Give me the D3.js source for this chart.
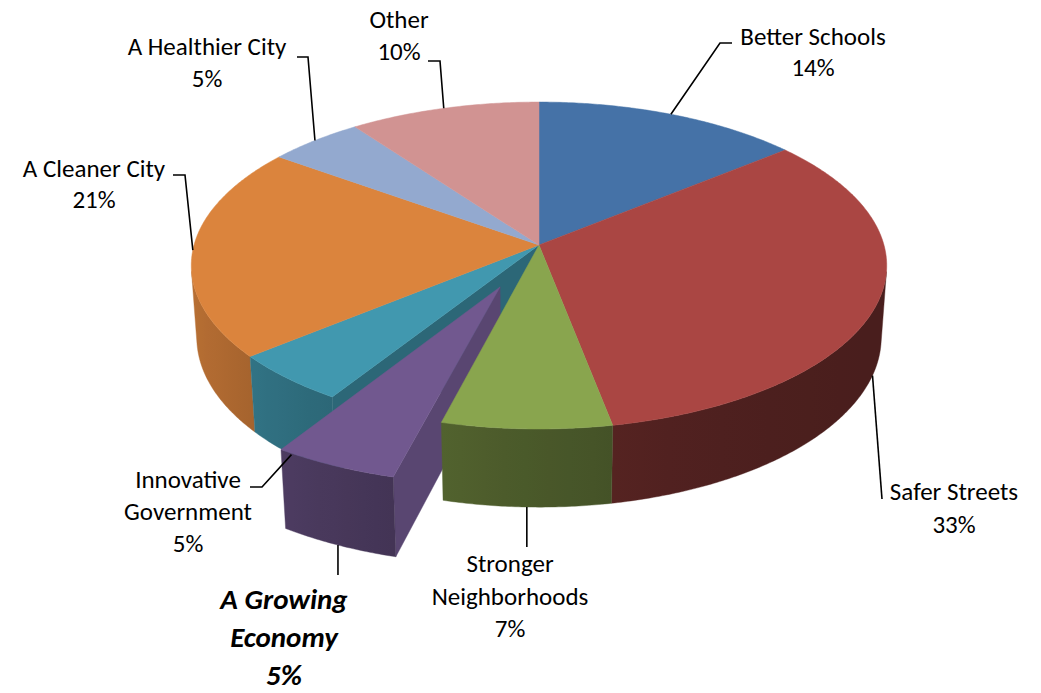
<!DOCTYPE html>
<html>
<head>
<meta charset="utf-8">
<script src="https://cdn.jsdelivr.net/npm/d3@7"></script>
<style>
  html, body { margin: 0; padding: 0; background: #fff; }
  svg { display: block; }
  text { font-family: Carlito, Calibri, Lato, "Open Sans", sans-serif; fill: #000; }
</style>
</head>
<body>
<svg id="chart" width="1041" height="693"></svg>
<script>
// Survey priorities (share of responses, %)
const categories = ["Better Schools", "Safer Streets", "Stronger Neighborhoods", "A Growing Economy",
                    "Innovative Government", "A Cleaner City", "A Healthier City", "Other"];
const values = [14, 33, 7, 5, 5, 21, 5, 10];
const sliceColors = ["#4572A7", "#AA4643", "#89A54E", "#71588F", "#4198AF", "#DB843D", "#93A9CF", "#D19392"];
const highlighted = "A Growing Economy";   // pulled out of the pie and set in bold italic

const svg = d3.select("#chart");
const defs = svg.append("defs");

// ---- 3D perspective camera for a tilted pie --------------------------------
const CX = 539, CY = 245;          // screen position of the pie centre
const FOCAL = 2432;
const DIST = 7.05;                 // camera distance (pie radius = 1)
const ELEV = 27.8 * Math.PI / 180; // camera elevation
const THICK = 0.2375;              // pie thickness
const EXPLODE = 0.275;             // pull-out distance of the highlighted slice
const sE = Math.sin(ELEV), cE = Math.cos(ELEV);
const cam = [0, DIST * sE, DIST * cE];

function project(x, y, z) {
  const vx = x, vy = y - cam[1], vz = z - cam[2];
  const yc = vy * cE - vz * sE;
  const zc = -vy * sE - vz * cE;
  return [CX + FOCAL * vx / zc, CY - FOCAL * yc / zc, zc];
}

// d3.pie: angle 0 at 12 o'clock, clockwise — the far side of the disc is "up"
const pie = d3.pie().sort(null).value(d => d.value);
const arcs = pie(categories.map((c, i) => ({ name: c, value: values[i], color: sliceColors[i], i })));

// world point on the disc for angle a, radius r, height y, with offset
function wpt(a, r, y, off) { return [off[0] + r * Math.sin(a), y, off[1] - r * Math.cos(a)]; }
const P = (a, r, y, off) => project(...wpt(a, r, y, off));

const shadeFactor = nx => 0.43 + 0.42 * Math.pow((1 - nx) / 2, 2);
function shade(col, k) {
  const c = d3.rgb(col);
  return d3.rgb(c.r * k, c.g * k, c.b * k).formatHex();
}
const line = d3.line();

arcs.forEach(d => {
  const mid = (d.startAngle + d.endAngle) / 2;
  const ex = d.data.name === highlighted ? EXPLODE : 0;
  d.offset = [ex * Math.sin(mid), -ex * Math.cos(mid)];
  d.mid = mid;
});
const hiIndex = arcs.findIndex(d => d.data.name === highlighted);

function rimFacing(a, off) {
  const p = wpt(a, 1, -THICK / 2, off);
  return Math.sin(a) * (cam[0] - p[0]) + (-Math.cos(a)) * (cam[2] - p[2]) > 0;
}

// ---- collect side faces (outer rims and exposed radial walls) --------------
const faces = [];
const STEP = Math.PI / 360;
arcs.forEach((d, k) => {
  const off = d.offset;
  // visible part of the rim
  const n = Math.max(2, Math.ceil((d.endAngle - d.startAngle) / STEP));
  const angs = d3.range(n + 1).map(j => d.startAngle + (d.endAngle - d.startAngle) * j / n)
    .filter(a => rimFacing(a, off));
  if (angs.length > 1) {
    const top = angs.map(a => P(a, 1, 0, off));
    const bot = angs.map(a => P(a, 1, -THICK, off)).reverse();
    const id = "rim" + k;
    const x1 = top[0][0], x2 = top[top.length - 1][0];
    const grad = defs.append("linearGradient").attr("id", id)
      .attr("gradientUnits", "userSpaceOnUse")
      .attr("x1", x1).attr("y1", 0).attr("x2", x2).attr("y2", 0);
    const nStops = 8;
    d3.range(nStops + 1).forEach(j => {
      const idx = Math.round(j * (angs.length - 1) / nStops);
      const a = angs[idx];
      const off01 = Math.abs(x2 - x1) < 1e-6 ? 0 : (top[idx][0] - x1) / (x2 - x1);
      grad.append("stop").attr("offset", Math.max(0, Math.min(1, off01)))
        .attr("stop-color", shade(d.data.color, shadeFactor(Math.sin(a))));
    });
    const pts = top.concat(bot);
    faces.push({ p: pts, fill: `url(#${id})`, depth: d3.mean(pts, q => q[2]) });
  }
  // radial walls only where a slice has been pulled out
  const prev = (k + arcs.length - 1) % arcs.length, next = (k + 1) % arcs.length;
  const walls = [];
  if (k === hiIndex || prev === hiIndex) walls.push({ a: d.startAngle, sign: -1 });
  if (k === hiIndex || next === hiIndex) walls.push({ a: d.endAngle, sign: 1 });
  walls.forEach(({ a, sign }) => {
    const nrm = [sign * Math.cos(a), sign * Math.sin(a)];
    const p = wpt(a, 0.5, -THICK / 2, off);
    const vis = nrm[0] * (cam[0] - p[0]) + nrm[1] * (cam[2] - p[2]);
    if (vis <= 0) return;
    const pts = [P(a, 0, 0, off), P(a, 1, 0, off), P(a, 1, -THICK, off), P(a, 0, -THICK, off)];
    faces.push({ p: pts, fill: shade(d.data.color, k === hiIndex ? 0.79 : 0.68), depth: d3.mean(pts, q => q[2]) });
  });
});
faces.sort((a, b) => b.depth - a.depth);

svg.append("g").selectAll("path").data(faces).join("path")
  .attr("d", f => line(f.p.map(q => [q[0], q[1]])) + "Z")
  .attr("fill", f => f.fill)
  .attr("stroke", f => f.fill)
  .attr("stroke-width", 0.4)
  .attr("stroke-linejoin", "round");

// ---- top faces ------------------------------------------------------------
svg.append("g").selectAll("path").data(arcs).join("path")
  .attr("d", d => {
    const pts = [P(0, 0, 0, d.offset)];
    const n = Math.max(2, Math.ceil((d.endAngle - d.startAngle) / STEP));
    for (let j = 0; j <= n; j++) {
      pts.push(P(d.startAngle + (d.endAngle - d.startAngle) * j / n, 1, 0, d.offset));
    }
    return line(pts.map(q => [q[0], q[1]])) + "Z";
  })
  .attr("fill", d => d.data.color)
  .attr("stroke", d => d.data.color)
  .attr("stroke-width", 0.5);

// ---- data labels with leader lines ------------------------------------------
// label layout: centre x, first baseline, line gap, words on first line, leader route
const labelLayout = [
  { x: 813, y: 45,  gap: 31,   words: 0, route: [[720, 43], [732, 43]] },
  { x: 954, y: 500, gap: 33,   words: 0, route: [[882, 499]] },
  { x: 510, y: 572, gap: 32.5, words: 1, route: [[null, 547]] },
  { x: 284, y: 609, gap: 38,   words: 2, route: [[null, 575]] },
  { x: 188, y: 488, gap: 32,   words: 1, route: [[262, 487], [250, 487]] },
  { x: 94,  y: 177, gap: 31,   words: 0, route: [[185, 175], [173, 175]] },
  { x: 207, y: 55,  gap: 32,   words: 0, route: [[308, 57], [297, 57]] },
  { x: 399, y: 28,  gap: 32,   words: 0, route: [[440, 61], [428, 61]] }
];

const gLab = svg.append("g");
arcs.forEach((d, k) => {
  const L = labelLayout[k];
  const a = d.mid;
  // leader starts on the rim at the slice's mid angle: bottom edge when the rim faces us
  const anchor = P(a, 1, rimFacing(a, d.offset) ? -THICK : 0, d.offset);
  const pts = [[anchor[0], anchor[1]]].concat(L.route.map(r => [r[0] === null ? anchor[0] : r[0], r[1]]));
  gLab.append("path")
    .attr("d", line(pts))
    .attr("fill", "none")
    .attr("stroke", "#000")
    .attr("stroke-width", 1.6);

  const words = d.data.name.split(" ");
  const lines = L.words ? [words.slice(0, L.words).join(" "), words.slice(L.words).join(" ")] : [d.data.name];
  lines.push(d.data.value + "%");
  const hi = d.data.name === highlighted;
  const t = gLab.append("text")
    .attr("text-anchor", "middle")
    .attr("font-size", hi ? 29 : 25)
    .attr("font-weight", hi ? "bold" : "normal")
    .attr("font-style", hi ? "italic" : "normal");
  lines.forEach((s, j) => {
    t.append("tspan").attr("x", L.x).attr("y", L.y + j * L.gap).text(s);
  });
});
</script>
</body>
</html>
